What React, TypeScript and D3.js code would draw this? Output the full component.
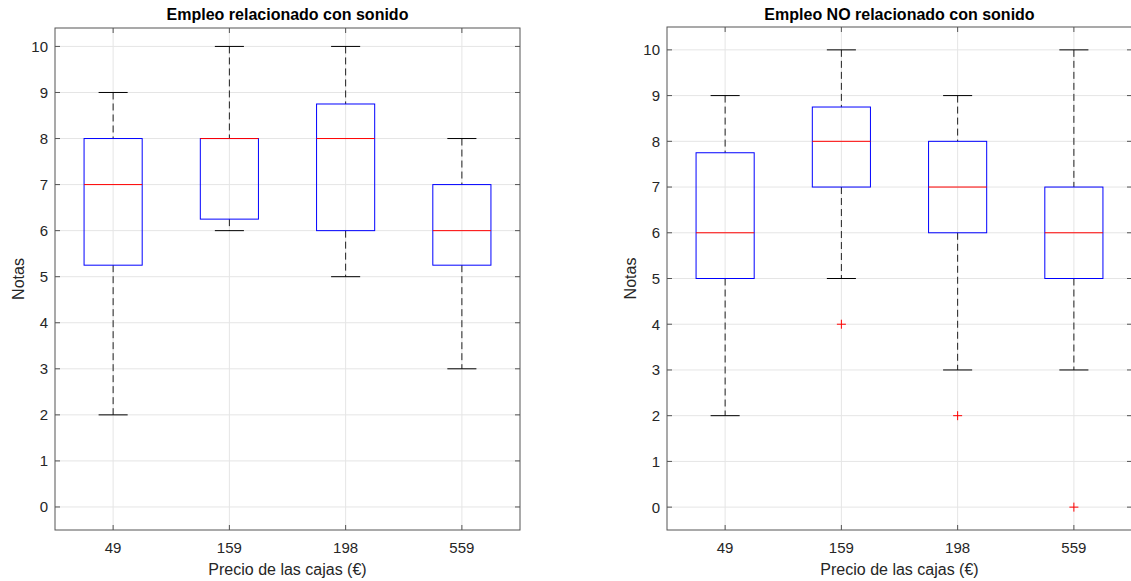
import * as d3 from 'd3';

// Categories (box prices)
const categories = ['49', '159', '198', '559'];
const yTicks = [0, 1, 2, 3, 4, 5, 6, 7, 8, 9, 10];

// Empleo relacionado con sonido
const relLow = [2, 6, 5, 3];
const relQ1 = [5.25, 6.25, 6, 5.25];
const relMedian = [7, 8, 8, 6];
const relQ3 = [8, 8, 8.75, 7];
const relHigh = [9, 10, 10, 8];
const relOutliers: number[][] = [[], [], [], []];

// Empleo NO relacionado con sonido
const noLow = [2, 5, 3, 3];
const noQ1 = [5, 7, 6, 5];
const noMedian = [6, 8, 7, 6];
const noQ3 = [7.75, 8.75, 8, 7];
const noHigh = [9, 10, 9, 10];
const noOutliers: number[][] = [[], [4], [2], [0]];

const font = '"Liberation Sans", Arial, Helvetica, sans-serif';
const textColor = '#262626';
const axisColor = '#555555';
const gridColor = '#e5e5e5';

type PanelProps = {
  left: number;
  right: number;
  top: number;
  bottom: number;
  yDomain: [number, number];
  title: string;
  low: number[];
  q1: number[];
  median: number[];
  q3: number[];
  high: number[];
  outliers: number[][];
};

function Panel(p: PanelProps) {
  const x = d3.scaleLinear().domain([0.5, 4.5]).range([p.left, p.right]);
  const y = d3.scaleLinear().domain(p.yDomain).range([p.bottom, p.top]);
  const boxHalf = x(1.25) - x(1);
  const capHalf = x(1.125) - x(1);
  const tickLen = 5;
  const cx = (p.left + p.right) / 2;
  const cy = (p.top + p.bottom) / 2;

  return (
    <g>
      {/* grid */}
      {yTicks.map(t => (
        <line key={'gy' + t} x1={p.left} x2={p.right} y1={y(t)} y2={y(t)} stroke={gridColor} />
      ))}
      {categories.map((c, i) => (
        <line key={'gx' + c} x1={x(i + 1)} x2={x(i + 1)} y1={p.top} y2={p.bottom} stroke={gridColor} />
      ))}

      {/* boxes */}
      {categories.map((c, i) => {
        const xc = x(i + 1);
        return (
          <g key={'b' + c}>
            <line x1={xc} x2={xc} y1={y(p.high[i])} y2={y(p.q3[i])} stroke="#222" strokeDasharray="7,4" />
            <line x1={xc} x2={xc} y1={y(p.q1[i])} y2={y(p.low[i])} stroke="#222" strokeDasharray="7,4" />
            <line x1={xc - capHalf} x2={xc + capHalf} y1={y(p.high[i])} y2={y(p.high[i])} stroke="#000" />
            <line x1={xc - capHalf} x2={xc + capHalf} y1={y(p.low[i])} y2={y(p.low[i])} stroke="#000" />
            <rect x={xc - boxHalf} y={y(p.q3[i])} width={boxHalf * 2} height={y(p.q1[i]) - y(p.q3[i])}
              fill="none" stroke="#0000ff" />
            <line x1={xc - boxHalf} x2={xc + boxHalf} y1={y(p.median[i])} y2={y(p.median[i])} stroke="#ff0000" />
            {p.outliers[i].map((o, j) => (
              <path key={j} d={`M${xc - 4.5},${y(o)}H${xc + 4.5}M${xc},${y(o) - 4.5}V${y(o) + 4.5}`}
                stroke="#ff0000" />
            ))}
          </g>
        );
      })}

      {/* box border */}
      <rect x={p.left} y={p.top} width={p.right - p.left} height={p.bottom - p.top} fill="none" stroke={axisColor} />

      {/* y ticks */}
      {yTicks.map(t => (
        <g key={'ty' + t}>
          <line x1={p.left} x2={p.left + tickLen} y1={y(t)} y2={y(t)} stroke={axisColor} />
          <line x1={p.right} x2={p.right - tickLen} y1={y(t)} y2={y(t)} stroke={axisColor} />
          <text x={p.left - 7} y={y(t)} dy="0.36em" textAnchor="end" fontSize={15} fill={textColor}>{t}</text>
        </g>
      ))}
      {/* x ticks */}
      {categories.map((c, i) => (
        <g key={'tx' + c}>
          <line x1={x(i + 1)} x2={x(i + 1)} y1={p.bottom} y2={p.bottom - tickLen} stroke={axisColor} />
          <line x1={x(i + 1)} x2={x(i + 1)} y1={p.top} y2={p.top + tickLen} stroke={axisColor} />
          <text x={x(i + 1)} y={p.bottom + 23} textAnchor="middle" fontSize={15} fill={textColor}>{c}</text>
        </g>
      ))}

      <text x={cx} y={20} textAnchor="middle" fontSize={16} fontWeight="bold" fill="#000">{p.title}</text>
      <text x={cx} y={575} textAnchor="middle" fontSize={16} fill={textColor}>Precio de las cajas (€)</text>
      <text transform={`translate(${p.left - 31},${cy}) rotate(-90)`} textAnchor="middle" fontSize={16}
        fill={textColor}>Notas</text>
    </g>
  );
}

export default function App() {
  return (
    <svg width={1131} height={581} style={{ position: 'absolute', left: 0, top: 0, background: '#fff' }}
      fontFamily={font}>
      <Panel left={55} right={520} top={28} bottom={530} yDomain={[-0.5, 10.4]}
        title="Empleo relacionado con sonido"
        low={relLow} q1={relQ1} median={relMedian} q3={relQ3} high={relHigh} outliers={relOutliers} />
      <Panel left={667} right={1132} top={27} bottom={530} yDomain={[-0.5, 10.5]}
        title="Empleo NO relacionado con sonido"
        low={noLow} q1={noQ1} median={noMedian} q3={noQ3} high={noHigh} outliers={noOutliers} />
    </svg>
  );
}
